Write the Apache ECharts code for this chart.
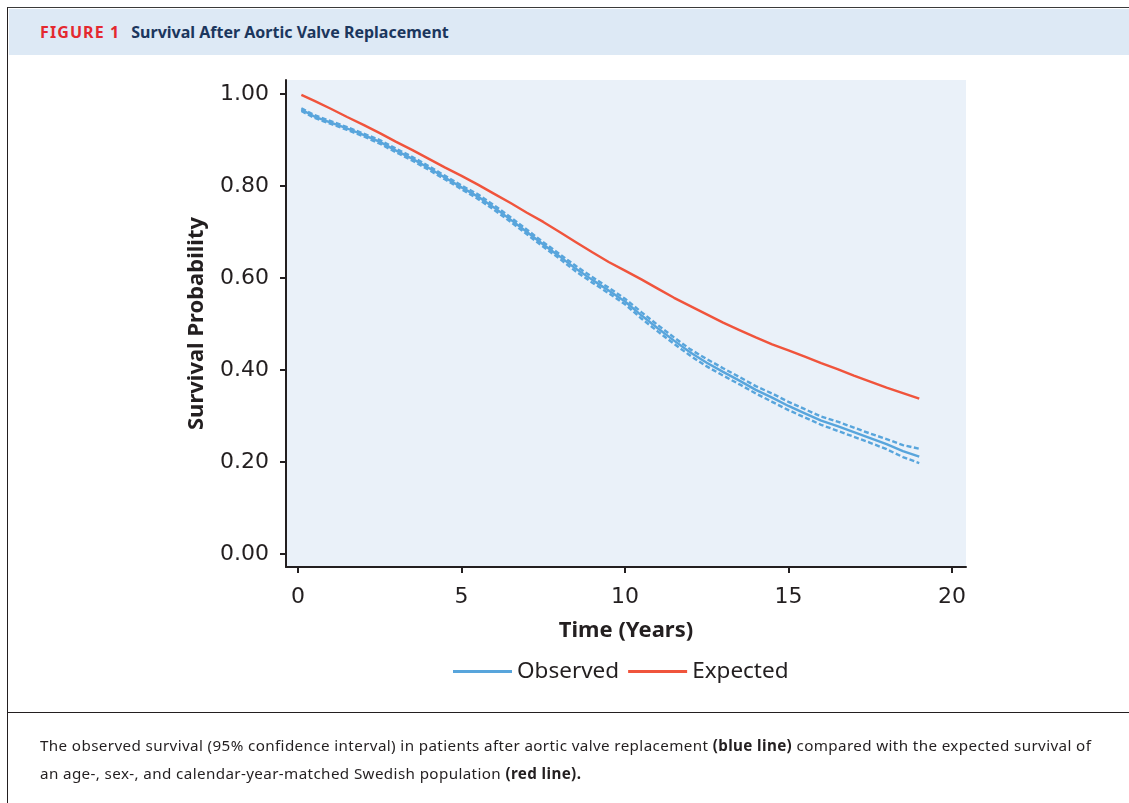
<!DOCTYPE html>
<html>
<head>
<meta charset="utf-8">
<script src="https://cdn.jsdelivr.net/npm/echarts@6/dist/echarts.min.js"></script>
<style>
  html, body { margin: 0; padding: 0; width: 1129px; height: 803px; background: #ffffff; overflow: hidden; }
  #frame { position: absolute; left: 7px; top: 7px; width: 1130px; height: 800px; border-left: 1.5px solid #231f20; border-top: 1.5px solid #3a3a3a; }
  #header { position: absolute; left: 8.5px; top: 9px; width: 1125px; height: 46px; background: #dde9f5; }
  #title { position: absolute; left: 40px; top: 21px; font-family: "Noto Sans", sans-serif; font-weight: bold; font-size: 16px; line-height: 22px; white-space: nowrap; }
  #title .fig { color: #e4282f; letter-spacing: 1.1px; margin-right: 11px; }
  #title .main { color: #1b365d; }
  #sep { position: absolute; left: 8px; top: 712px; width: 1125px; height: 0; border-top: 1.6px solid #231f20; }
  #caption { position: absolute; left: 40px; top: 731px; width: 1085px; font-family: "Noto Sans", sans-serif; font-size: 15.2px; letter-spacing: 0.38px; line-height: 28px; color: #231f20; white-space: nowrap; }
  #chart { position: absolute; left: 0; top: 0; width: 1129px; height: 803px; }
</style>
</head>
<body>
<div id="frame"></div>
<div id="header"></div>
<div id="title"><span class="fig">FIGURE 1</span><span class="main">Survival After Aortic Valve Replacement</span></div>
<div id="chart"></div>
<div id="sep"></div>
<div id="caption">The observed survival (95% confidence interval) in patients after aortic valve replacement <b>(blue line)</b> compared with the expected survival of<br>an age-, sex-, and calendar-year-matched Swedish population <b>(red line).</b></div>
<script>
// ---- data ----
var time = [0.1,0.5,1,1.5,2,2.5,3,3.5,4,4.5,5,5.5,6,6.5,7,7.5,8,8.5,9,9.5,10,10.5,11,11.5,12,12.5,13,13.5,14,14.5,15,15.5,16,16.5,17,17.5,18,18.5,19];
var observed = [0.966,0.951,0.938,0.925,0.911,0.896,0.877,0.859,0.839,0.818,0.797,0.777,0.753,0.727,0.700,0.673,0.647,0.620,0.596,0.573,0.549,0.519,0.491,0.464,0.438,0.416,0.396,0.377,0.357,0.340,0.322,0.306,0.290,0.278,0.265,0.252,0.239,0.224,0.212];
var observedUpper = [0.969,0.954,0.941,0.928,0.914,0.900,0.881,0.863,0.843,0.822,0.801,0.782,0.758,0.732,0.705,0.678,0.652,0.626,0.602,0.579,0.555,0.526,0.498,0.471,0.445,0.424,0.404,0.385,0.365,0.349,0.331,0.315,0.299,0.288,0.275,0.262,0.250,0.237,0.229];
var observedLower = [0.963,0.948,0.935,0.922,0.908,0.892,0.873,0.855,0.835,0.814,0.793,0.772,0.748,0.722,0.695,0.668,0.642,0.614,0.590,0.567,0.543,0.512,0.484,0.457,0.431,0.408,0.388,0.369,0.349,0.331,0.313,0.297,0.281,0.268,0.255,0.242,0.228,0.211,0.198];
var expected = [0.998,0.985,0.968,0.950,0.933,0.915,0.896,0.878,0.859,0.840,0.822,0.803,0.783,0.763,0.742,0.722,0.700,0.678,0.656,0.635,0.616,0.597,0.577,0.557,0.539,0.521,0.503,0.487,0.471,0.456,0.443,0.429,0.415,0.402,0.388,0.375,0.362,0.350,0.338];
var xTicks = [0,5,10,15,20];
var yTicks = [0,0.2,0.4,0.6,0.8,1.0];

function pairs(ys) { return time.map(function (t, i) { return [t, ys[i]]; }); }

var BLUE = '#58a5dc';
var RED = '#f0543c';
var INK = '#231f20';
var FONT = '"Noto Sans", sans-serif';
var TICKFONT = '"DejaVu Sans", sans-serif';

var chart = echarts.init(document.getElementById('chart'), null, { renderer: 'canvas' });
chart.setOption({
  animation: false,
  backgroundColor: 'transparent',
  grid: { left: 286, right: 163, top: 80, bottom: 236, show: true, backgroundColor: '#eaf1f9', borderWidth: 0, containLabel: false },
  legend: {
    data: ['Observed', 'Expected'],
    left: 453, top: 660, padding: 0,
    icon: 'rect', itemWidth: 59, itemHeight: 3, itemGap: 9,
    textStyle: { fontFamily: FONT, fontSize: 22.5, color: INK }
  },
  xAxis: {
    type: 'value', min: -0.37, max: 20.43,
    name: 'Time (Years)', nameLocation: 'middle', nameGap: 53,
    nameTextStyle: { fontFamily: FONT, fontSize: 22, fontWeight: 'bold', color: INK },
    axisLine: { show: true, onZero: false, lineStyle: { color: INK, width: 2 } },
    axisTick: { show: true, length: 6, lineStyle: { color: INK, width: 2 }, customValues: xTicks },
    axisLabel: { fontFamily: TICKFONT, fontSize: 22, color: INK, margin: 19, customValues: xTicks, formatter: function (v) { return String(v); } },
    splitLine: { show: false }
  },
  yAxis: {
    type: 'value', min: -0.028, max: 1.0304,
    name: 'Survival Probability', nameLocation: 'middle', nameGap: 78,
    nameTextStyle: { fontFamily: FONT, fontSize: 22, fontWeight: 'bold', color: INK },
    axisLine: { show: true, onZero: false, lineStyle: { color: INK, width: 2 } },
    axisTick: { show: true, length: 6, lineStyle: { color: INK, width: 2 }, customValues: yTicks },
    axisLabel: { fontFamily: TICKFONT, fontSize: 22, color: INK, margin: 17, customValues: yTicks, formatter: function (v) { return v.toFixed(2); } },
    splitLine: { show: false }
  },
  series: [
    { name: 'Upper CI', type: 'line', data: pairs(observedUpper), showSymbol: false, symbol: 'none', lineStyle: { color: BLUE, width: 2.4, type: [5, 2.5] }, z: 2 },
    { name: 'Lower CI', type: 'line', data: pairs(observedLower), showSymbol: false, symbol: 'none', lineStyle: { color: BLUE, width: 2.4, type: [5, 2.5] }, z: 2 },
    { name: 'Observed', type: 'line', data: pairs(observed), showSymbol: false, symbol: 'none', itemStyle: { color: BLUE }, lineStyle: { color: BLUE, width: 2.4 }, z: 3 },
    { name: 'Expected', type: 'line', data: pairs(expected), showSymbol: false, symbol: 'none', itemStyle: { color: RED }, lineStyle: { color: RED, width: 2.4 }, z: 3 }
  ]
});
</script>
</body>
</html>
